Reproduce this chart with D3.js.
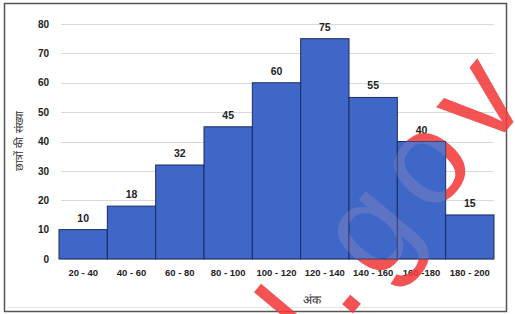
<!DOCTYPE html>
<html>
<head>
<meta charset="utf-8"/>
<title>अंक वितरण</title>
<script src="https://cdn.jsdelivr.net/npm/d3@7"></script>
<style>
  body { margin: 0; background: #fff; }
  svg text { font-family: "Liberation Sans", Arial, sans-serif; }
</style>
</head>
<body>
<div id="chart"></div>
<script>
// data
var categories = ["20 - 40", "40 - 60", "60 - 80", "80 - 100", "100 - 120", "120 - 140", "140 - 160", "160 -180", "180 - 200"];
var students = [10, 18, 32, 45, 60, 75, 55, 40, 15];
var yTicks = [0, 10, 20, 30, 40, 50, 60, 70, 80];

var width = 515, height = 314;
var margin = {top: 24, right: 21, bottom: 55, left: 59};

var svg = d3.select("#chart").append("svg")
  .attr("width", width)
  .attr("height", height);

// outer frame
svg.append("rect")
  .attr("x", 4.5).attr("y", 3.5)
  .attr("width", 502).attr("height", 308)
  .attr("fill", "#fff")
  .attr("stroke", "#555").attr("stroke-width", 1.5);
svg.append("line")
  .attr("x1", 8).attr("x2", 505)
  .attr("y1", 307.5).attr("y2", 307.5)
  .attr("stroke", "#e4e4e4");

var x = d3.scaleBand()
  .domain(categories)
  .range([margin.left, width - margin.right])
  .padding(0);

var y = d3.scaleLinear()
  .domain([0, 80])
  .range([height - margin.bottom, margin.top]);

// gridlines
svg.append("g")
  .selectAll("line")
  .data(yTicks)
  .join("line")
  .attr("x1", margin.left + 2)
  .attr("x2", width - margin.right)
  .attr("y1", function(d) { return Math.round(y(d)) + 0.5; })
  .attr("y2", function(d) { return Math.round(y(d)) + 0.5; })
  .attr("stroke", "#d9d9d9");

// y axis labels
var yAxis = d3.axisLeft(y).tickValues(yTicks).tickSize(0).tickPadding(0);
svg.append("g")
  .attr("transform", "translate(" + (margin.left - 10) + ",0)")
  .call(yAxis)
  .call(function(g) { g.select(".domain").remove(); })
  .selectAll("text")
  .attr("font-size", 10)
  .attr("font-weight", "bold")
  .attr("fill", "#222");

// value labels
svg.append("g")
  .selectAll("text")
  .data(students)
  .join("text")
  .attr("x", function(d, i) { return x(categories[i]) + x.bandwidth() / 2; })
  .attr("y", function(d) { return y(d) - 8; })
  .attr("text-anchor", "middle")
  .attr("font-size", 10.5)
  .attr("font-weight", "bold")
  .attr("fill", "#222")
  .text(function(d) { return d; });

// x axis labels
var xAxis = d3.axisBottom(x).tickSize(0).tickPadding(0);
svg.append("g")
  .attr("transform", "translate(0," + (y(0) + 10) + ")")
  .call(xAxis)
  .call(function(g) { g.select(".domain").remove(); })
  .selectAll("text")
  .attr("font-size", 9.5)
  .attr("font-weight", "bold")
  .attr("fill", "#222");

// axis titles
svg.append("text")
  .attr("x", 312).attr("y", 304)
  .attr("text-anchor", "middle")
  .attr("font-size", 12)
  .attr("fill", "#333")
  .text("अंक");

svg.append("text")
  .attr("transform", "translate(23,141) rotate(-90)")
  .attr("text-anchor", "middle")
  .attr("font-size", 11)
  .attr("fill", "#333")
  .text("छात्रों की संख्या");

// watermark: strong over the white parts, faint over the bars
function watermark(fill) {
  return svg.append("text")
    .attr("transform", "translate(276,405) rotate(-50)")
    .attr("font-size", 130)
    .attr("letter-spacing", 14)
    .attr("fill", fill)
    .attr("pointer-events", "none")
    .text("N.gov");
}
watermark("rgba(240,30,30,0.85)");

// bars
svg.append("g")
  .selectAll("rect")
  .data(students)
  .join("rect")
  .attr("x", function(d, i) { return x(categories[i]); })
  .attr("y", function(d) { return y(d); })
  .attr("width", x.bandwidth())
  .attr("height", function(d) { return y(0) - y(d); })
  .attr("fill", "#3f67c8")
  .attr("stroke", "#1c2b5e")
  .attr("stroke-width", 1);

watermark("rgba(255,185,185,0.16)");
</script>
</body>
</html>
